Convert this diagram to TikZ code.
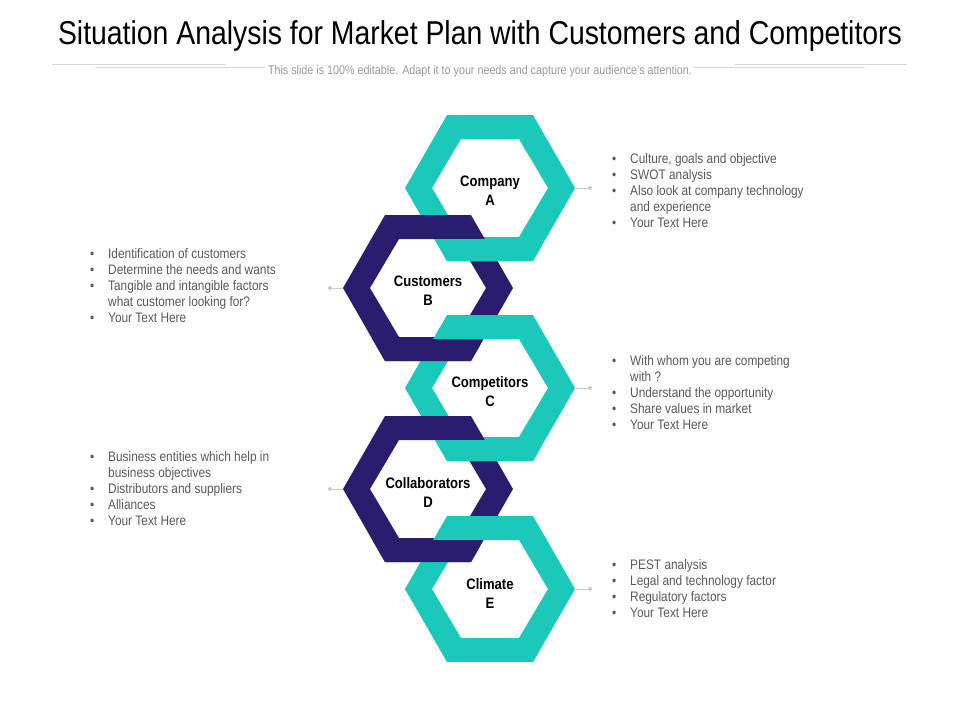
\documentclass[tikz,border=0pt]{standalone}
\usepackage{fontspec}
\setmainfont[FakeStretch=0.86]{Liberation Sans}
\definecolor{teal}{HTML}{1BC9BA}
\definecolor{navy}{HTML}{2B1D6E}
\definecolor{txt}{HTML}{595959}
\newcommand{\hexring}[3]{%
  \fill[#3,even odd rule] (#1-85,#2) -- (#1-43,#2-73) -- (#1+43,#2-73) -- (#1+85,#2) -- (#1+43,#2+73) -- (#1-43,#2+73) -- cycle
   (#1-58,#2) -- (#1-29,#2-49) -- (#1+29,#2-49) -- (#1+58,#2) -- (#1+29,#2+49) -- (#1-29,#2+49) -- cycle;}
\tikzset{lbl/.style={font=\bfseries\fontsize{15.2}{19}\selectfont,align=center,text=black},
 blist/.style={anchor=north west,align=left,text=txt,font=\fontsize{13.8}{16}\selectfont,inner sep=0pt},
 conn/.style={draw=black!20,line width=0.8pt},
 dot/.style={circle,fill=black!20,inner sep=0pt,minimum size=4pt}}
\newcommand{\bl}{\makebox[21pt][l]{\hspace*{3pt}\textbullet}}
\begin{document}
\begin{tikzpicture}[x=1pt,y=-1pt]
\useasboundingbox (0,0) rectangle (960,720);
\node[font=\fontsize{33}{38}\selectfont] (title) at (480,36) {Situation Analysis for Market Plan with Customers and Competitors};
\draw[black!15,line width=0.8pt] (52,64) -- (226,64) (95,67) -- (265,67) (735,64) -- (907,64) (693,67) -- (865,67);
\node[text=black!40,font=\fontsize{12.5}{14}\selectfont] (sub) at (480,71) {This slide is 100\% editable. Adapt it to your needs and capture your audience's attention.};
% rings
\hexring{490}{188}{teal}
\hexring{428}{288}{navy}
\begin{scope}\clip (400,239.5) rectangle (540,265); \hexring{490}{188}{teal}\end{scope}
\hexring{490}{388}{teal}
\begin{scope}\clip (370,339.5) rectangle (480,365); \hexring{428}{288}{navy}\end{scope}
\hexring{428}{489}{navy}
\begin{scope}\clip (400,440.5) rectangle (540,466); \hexring{490}{388}{teal}\end{scope}
\hexring{490}{589}{teal}
\begin{scope}\clip (370,540.5) rectangle (480,566); \hexring{428}{489}{navy}\end{scope}
% labels
\node[lbl] (a) at (490,191) {Company\\A};
\node[lbl] (b) at (428,291) {Customers\\B};
\node[lbl] (c) at (490,392) {Competitors\\C};
\node[lbl] (d) at (428,492) {Collaborators\\D};
\node[lbl] (e) at (490,593) {Climate\\E};
% connectors
\coordinate (ar) at (575,188); \node[dot] (ad) at (590,188) {}; \draw[conn] (ar) -- (ad);
\coordinate (br) at (343,288); \node[dot] (bd) at (330,288) {}; \draw[conn] (br) -- (bd);
\coordinate (cr) at (575,388); \node[dot] (cd) at (590,388) {}; \draw[conn] (cr) -- (cd);
\coordinate (dr) at (343,489); \node[dot] (dd) at (330,489) {}; \draw[conn] (dr) -- (dd);
\coordinate (er) at (575,589); \node[dot] (ed) at (590,589) {}; \draw[conn] (er) -- (ed);
% lists
\node[blist] (la) at (609,153) {\bl Culture, goals and objective\\\bl SWOT analysis\\\bl Also look at company technology\\\hspace*{21pt}and experience\\\bl Your Text Here};
\node[blist] (lb) at (87,248) {\bl Identification of customers\\\bl Determine the needs and wants\\\bl Tangible and intangible factors\\\hspace*{21pt}what customer looking for?\\\bl Your Text Here};
\node[blist] (lc) at (609,355) {\bl With whom you are competing\\\hspace*{21pt}with ?\\\bl Understand the opportunity\\\bl Share values in market\\\bl Your Text Here};
\node[blist] (ld) at (87,451) {\bl Business entities which help in\\\hspace*{21pt}business objectives\\\bl Distributors and suppliers\\\bl Alliances\\\bl Your Text Here};
\node[blist] (le) at (609,559) {\bl PEST analysis\\\bl Legal and technology factor\\\bl Regulatory factors\\\bl Your Text Here};
\end{tikzpicture}
\end{document}
